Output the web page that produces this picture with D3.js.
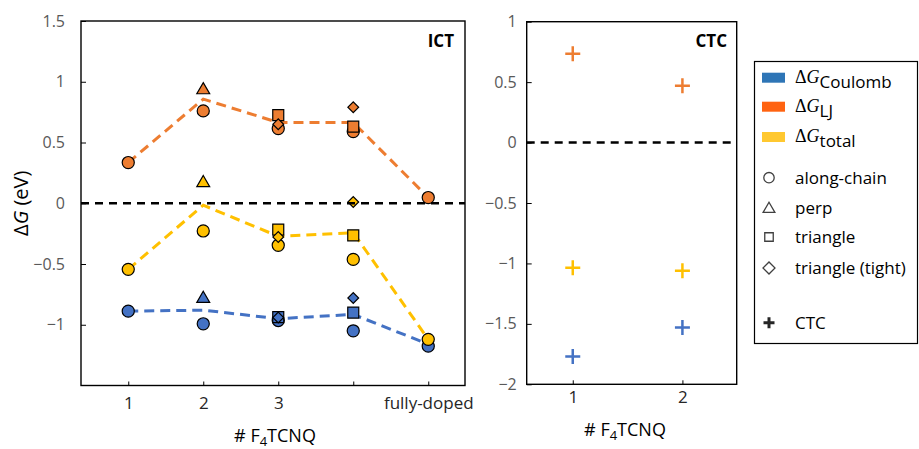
<!DOCTYPE html>
<html>
<head>
<meta charset="utf-8">
<script src="https://cdnjs.cloudflare.com/ajax/libs/d3/7.8.5/d3.min.js"></script>
<style>
  body { margin: 0; background: #fff; }
  text { font-family: "Open Sans", Lato, sans-serif; }
</style>
</head>
<body>
<svg id="chart" width="919" height="449"></svg>
<script>
// ---- data ----
const ictX = [1, 2, 3, 4, 5];
const ictTickLabels = ["1", "2", "3", "", "fully-doped"];
const ictYTicks = [-1, -0.5, 0, 0.5, 1, 1.5];

// dashed average lines
const lineCoulomb = [-0.888, -0.88, -0.95, -0.915, -1.16];
const lineLJ = [0.335, 0.857, 0.665, 0.665, 0.047];
const lineTotal = [-0.544, -0.016, -0.272, -0.242, -1.12];

// along-chain (all x)
const chainCoulomb = [-0.888, -0.992, -0.965, -1.05, -1.176];
const chainLJ = [0.335, 0.76, 0.615, 0.59, 0.047];
const chainTotal = [-0.544, -0.228, -0.346, -0.462, -1.12];
// perp (x = 2)
const perpX = [2];
const perpCoulomb = [-0.777];
const perpLJ = [0.94];
const perpTotal = [0.175];
// triangle (x = 3, 4)
const triX = [3, 4];
const triCoulomb = [-0.937, -0.9];
const triLJ = [0.725, 0.63];
const triTotal = [-0.217, -0.264];
// triangle (tight) (x = 3, 4)
const tightX = [3, 4];
const tightCoulomb = [-0.94, -0.78];
const tightLJ = [0.65, 0.79];
const tightTotal = [-0.278, 0.01];

// CTC panel
const ctcX = [1, 2];
const ctcYTicks = [-2, -1.5, -1, -0.5, 0, 0.5, 1];
const ctcCoulomb = [-1.77, -1.53];
const ctcLJ = [0.735, 0.47];
const ctcTotal = [-1.036, -1.06];

const cBlue = "#4472c4", cOrange = "#ed7d31", cYellow = "#ffc000";
const legBlue = "#2e75b6", legOrange = "#ff6311", legYellow = "#ffc830";

const svg = d3.select("#chart");

// ---------- left panel (ICT) ----------
const L = {left: 81, right: 465, top: 21, bottom: 385.5};
const x1 = d3.scaleLinear().domain([0.37, 5.49]).range([L.left, L.right]);
const y1 = d3.scaleLinear().domain([-1.5, 1.5]).range([L.bottom, L.top]);

const gL = svg.append("g");

gL.append("g")
  .attr("transform", `translate(${L.left},0)`)
  .call(d3.axisLeft(y1).tickValues(ictYTicks).tickSize(-5).tickPadding(16).tickFormat(d3.format("")))
  .call(g => g.select(".domain").remove())
  .call(g => g.selectAll("line").attr("stroke", "#000"))
  .call(g => g.selectAll("text").attr("fill", "#595959").style("font-size", "16px"));

gL.append("g")
  .attr("transform", `translate(0,${L.bottom})`)
  .call(d3.axisBottom(x1).tickValues(ictX).tickSize(-4).tickPadding(11).tickFormat((d, i) => ictTickLabels[i]))
  .call(g => g.select(".domain").remove())
  .call(g => g.selectAll("line").attr("stroke", "#000"))
  .call(g => g.selectAll("text").attr("fill", "#262626").style("font-size", "17px"));

gL.append("rect")
  .attr("x", L.left).attr("y", L.top)
  .attr("width", L.right - L.left).attr("height", L.bottom - L.top)
  .attr("fill", "none").attr("stroke", "#000").attr("stroke-width", 1.4);

const line1 = d3.line().x((d, i) => x1(ictX[i])).y(d => y1(d));
[[lineCoulomb, cBlue], [lineLJ, cOrange], [lineTotal, cYellow]].forEach(([vals, col]) => {
  gL.append("path").datum(vals)
    .attr("d", line1)
    .attr("fill", "none").attr("stroke", col)
    .attr("stroke-width", 3).attr("stroke-dasharray", "10,6");
});

const sym = {
  circle: d3.symbol().type(d3.symbolCircle).size(115),
  triangle: d3.symbol().type(d3.symbolTriangle).size(72),
  square: d3.symbol().type(d3.symbolSquare).size(121),
  diamond: d3.symbol().type(d3.symbolSquare).size(58)
};

function drawMarkers(xs, vals, shape, col) {
  gL.append("g").selectAll("path").data(vals).enter().append("path")
    .attr("d", sym[shape]())
    .attr("transform", (d, i) => `translate(${x1(xs[i])},${y1(d)})` + (shape === "diamond" ? " rotate(45)" : "") + (shape === "triangle" ? " translate(0,1)" : ""))
    .attr("fill", col)
    .attr("stroke", "#000").attr("stroke-width", 1.2);
}

[[chainCoulomb, perpCoulomb, triCoulomb, tightCoulomb, cBlue],
 [chainLJ, perpLJ, triLJ, tightLJ, cOrange],
 [chainTotal, perpTotal, triTotal, tightTotal, cYellow]].forEach(([ch, pe, tr, ti, col]) => {
  drawMarkers(ictX, ch, "circle", col);
  drawMarkers(perpX, pe, "triangle", col);
  drawMarkers(triX, tr, "square", col);
  drawMarkers(tightX, ti, "diamond", col);
});

gL.append("line")
  .attr("x1", L.left).attr("x2", L.right)
  .attr("y1", y1(0)).attr("y2", y1(0))
  .attr("stroke", "#000").attr("stroke-width", 2.5).attr("stroke-dasharray", "8,6");

gL.append("text").attr("x", 454).attr("y", 46.5)
  .attr("text-anchor", "end").style("font-size", "17px").style("font-weight", "bold")
  .text("ICT");

const yLab = gL.append("text")
  .attr("transform", `translate(28,${y1(0)}) rotate(-90)`)
  .attr("text-anchor", "middle").attr("fill", "#000").style("font-size", "20px");
yLab.append("tspan").text("Δ");
yLab.append("tspan").style("font-style", "italic").text("G");
yLab.append("tspan").text(" (eV)");

function f4Label(g, cx, y) {
  const t = g.append("text").attr("x", cx).attr("y", y)
    .attr("text-anchor", "middle").attr("fill", "#000").style("font-size", "18px");
  t.append("tspan").text("# F");
  t.append("tspan").attr("dy", 4).style("font-size", "13px").text("4");
  t.append("tspan").attr("dy", -4).text("TCNQ");
}
f4Label(gL, 275, 442);

// ---------- right panel (CTC) ----------
const R = {left: 526.7, right: 736.7, top: 21.7, bottom: 384.3};
const x2 = d3.scaleLinear().domain([0.58, 2.495]).range([R.left, R.right]);
const y2 = d3.scaleLinear().domain([-2, 1]).range([R.bottom, R.top]);
const gR = svg.append("g");

gR.append("g")
  .attr("transform", `translate(${R.left},0)`)
  .call(d3.axisLeft(y2).tickValues(ctcYTicks).tickSize(-5).tickPadding(10).tickFormat(d3.format("")))
  .call(g => g.select(".domain").remove())
  .call(g => g.selectAll("line").attr("stroke", "#000"))
  .call(g => g.selectAll("text").attr("fill", "#595959").style("font-size", "16px"));

gR.append("g")
  .attr("transform", `translate(0,${R.bottom})`)
  .call(d3.axisBottom(x2).tickValues(ctcX).tickSize(-4).tickPadding(7).tickFormat(d3.format("d")))
  .call(g => g.select(".domain").remove())
  .call(g => g.selectAll("line").attr("stroke", "#000"))
  .call(g => g.selectAll("text").attr("fill", "#262626").style("font-size", "17px"));

gR.append("rect")
  .attr("x", R.left).attr("y", R.top)
  .attr("width", R.right - R.left).attr("height", R.bottom - R.top)
  .attr("fill", "none").attr("stroke", "#000").attr("stroke-width", 1.4);

gR.append("line")
  .attr("x1", R.left).attr("x2", R.right)
  .attr("y1", y2(0)).attr("y2", y2(0))
  .attr("stroke", "#000").attr("stroke-width", 2.5).attr("stroke-dasharray", "8,6");

function plus(g, cx, cy, col, h, w) {
  g.append("path")
    .attr("d", `M${cx - h},${cy}H${cx + h}M${cx},${cy - h}V${cy + h}`)
    .attr("stroke", col).attr("stroke-width", w).attr("fill", "none");
}
[[ctcCoulomb, cBlue], [ctcLJ, cOrange], [ctcTotal, cYellow]].forEach(([vals, col]) => {
  vals.forEach((v, i) => plus(gR, x2(ctcX[i]), y2(v), col, 7.5, 2.5));
});

gR.append("text").attr("x", 727).attr("y", 46.5)
  .attr("text-anchor", "end").style("font-size", "17px").style("font-weight", "bold")
  .text("CTC");

f4Label(gR, 625, 436);

// ---------- legend ----------
const gLeg = svg.append("g");
gLeg.append("rect").attr("x", 754.5).attr("y", 61.5).attr("width", 163).attr("height", 282)
  .attr("fill", "#fff").attr("stroke", "#000").attr("stroke-width", 1.2);

const legSeries = [["Coulomb", legBlue, 77.7], ["LJ", legOrange, 106.7], ["total", legYellow, 137]];
legSeries.forEach(([sub, col, cy]) => {
  gLeg.append("rect").attr("x", 762).attr("y", cy - 5).attr("width", 23).attr("height", 10).attr("fill", col);
  const t = gLeg.append("text").attr("x", 795).attr("y", cy + 5).attr("fill", "#000");
  t.append("tspan").style("font-family", "'Liberation Serif', serif").style("font-size", "18px").text("Δ");
  t.append("tspan").style("font-family", "'Liberation Serif', serif").style("font-size", "18px").style("font-style", "italic").text("G");
  t.append("tspan").attr("dy", 5).style("font-size", "17px").text(sub);
});

const legShapes = [["circle", "along-chain", 177.7], ["triangle", "perp", 208], ["square", "triangle", 237], ["diamond", "triangle (tight)", 268]];
const legSym = {
  circle: d3.symbol().type(d3.symbolCircle).size(85),
  triangle: d3.symbol().type(d3.symbolTriangle).size(60),
  square: d3.symbol().type(d3.symbolSquare).size(72),
  diamond: d3.symbol().type(d3.symbolSquare).size(72)
};
legShapes.forEach(([shape, label, cy]) => {
  gLeg.append("path").attr("d", legSym[shape]())
    .attr("transform", `translate(769,${cy})` + (shape === "diamond" ? " rotate(45)" : "") + (shape === "triangle" ? " translate(0,1)" : ""))
    .attr("fill", "none").attr("stroke", "#404040").attr("stroke-width", 1.3);
  gLeg.append("text").attr("x", 795).attr("y", cy + 6).attr("fill", "#000").style("font-size", "17px").text(label);
});
plus(gLeg, 769, 322.7, "#262626", 5.5, 3);
gLeg.append("text").attr("x", 795).attr("y", 328.5).attr("fill", "#000").style("font-size", "17px").text("CTC");
</script>
</body>
</html>
